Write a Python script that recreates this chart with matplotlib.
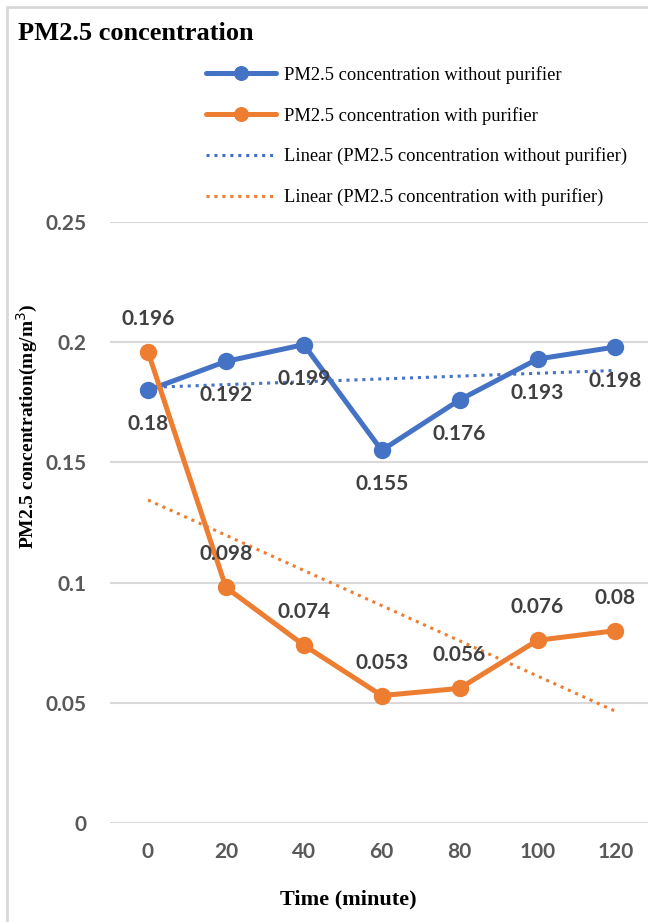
import numpy as np
import matplotlib
matplotlib.use("Agg")
import matplotlib.pyplot as plt
from matplotlib.patches import Rectangle

# ---- data ----
time_min = [0, 20, 40, 60, 80, 100, 120]
without_purifier = [0.18, 0.192, 0.199, 0.155, 0.176, 0.193, 0.198]
with_purifier = [0.196, 0.098, 0.074, 0.053, 0.056, 0.076, 0.08]
y_ticks = [0, 0.05, 0.1, 0.15, 0.2, 0.25]
y_tick_labels = ["0", "0.05", "0.1", "0.15", "0.2", "0.25"]
series_names = ["PM2.5 concentration without purifier",
                "PM2.5 concentration with purifier",
                "Linear (PM2.5 concentration without purifier)",
                "Linear (PM2.5 concentration with purifier)"]

BLUE = "#4472C4"
ORANGE = "#ED7D31"
TICK_C = "#595959"
LAB_C = "#404040"
W, H = 648, 922

fig = plt.figure(figsize=(W / 100, H / 100), dpi=100)
fig.patch.set_facecolor("white")

# outer chart border (cropped at right/bottom)
fig.patches.append(Rectangle((7 / W, -0.05), 1.2, 1 - 7 / H + 0.05,
                             transform=fig.transFigure, fill=False,
                             edgecolor="#D9D9D9", linewidth=2))

left, right = 110, 648
top, bottom = 222, 823
ax = fig.add_axes([left / W, 1 - bottom / H, (right - left) / W, (bottom - top) / H])

x = np.array(time_min, dtype=float)
px_per_20 = 77.9
ax.set_xlim(0 - 38 / px_per_20 * 20, 0 - 38 / px_per_20 * 20 + (right - left) / px_per_20 * 20)
ax.set_ylim(0, 0.25)

for s in ax.spines.values():
    s.set_visible(False)
ax.set_yticks(y_ticks)
ax.set_yticklabels(y_tick_labels)
ax.set_xticks(time_min)
ax.set_xticklabels([str(t) for t in time_min])
ax.tick_params(length=0)
ax.tick_params(axis="y", pad=17)
ax.tick_params(axis="x", pad=14)
for lab in ax.get_xticklabels() + ax.get_yticklabels():
    lab.set_fontfamily("Lato")
    lab.set_fontweight("bold")
    lab.set_fontsize(15)
    lab.set_color(TICK_C)
ax.grid(axis="y", color="#D9D9D9", linewidth=1.5)
ax.set_axisbelow(True)

# trend lines (least-squares linear fit)
c1 = np.polyfit(x, without_purifier, 1)
c2 = np.polyfit(x, with_purifier, 1)
xt = np.array([x[0], x[-1]])
l1, = ax.plot(x, without_purifier, color=BLUE, lw=3.6, marker="o", ms=11.5, zorder=4,
              solid_capstyle="round")
l2, = ax.plot(x, with_purifier, color=ORANGE, lw=3.6, marker="o", ms=11.5, zorder=4,
              solid_capstyle="round")
t1, = ax.plot(xt, np.polyval(c1, xt), color=BLUE, lw=2.2, ls=(0, (1, 1.6)), zorder=3)
t2, = ax.plot(xt, np.polyval(c2, xt), color=ORANGE, lw=2.2, ls=(0, (1, 1.6)), zorder=3)

for xi, yi in zip(x, without_purifier):
    ax.annotate(f"{yi:g}", (xi, yi), xytext=(0, -34), textcoords="offset pixels",
                ha="center", va="center", fontfamily="Lato", fontweight="bold",
                fontsize=15, color=LAB_C, zorder=5)
for xi, yi in zip(x, with_purifier):
    ax.annotate(f"{yi:g}", (xi, yi), xytext=(0, 33), textcoords="offset pixels",
                ha="center", va="center", fontfamily="Lato", fontweight="bold",
                fontsize=15, color=LAB_C, zorder=5)

fig.legend([l1, l2, t1, t2], series_names, loc="upper left",
           bbox_to_anchor=(206 / W, 1 - 66 / H), frameon=False,
           prop={"family": "Liberation Serif", "size": 13.3},
           handlelength=3.8, handletextpad=0.4, labelspacing=1.24,
           borderpad=0, borderaxespad=0, numpoints=1, markerscale=0.85)

fig.text(18 / W, 1 - 33 / H, "PM2.5 concentration", fontfamily="Liberation Serif",
         fontweight="bold", fontsize=19, ha="left", va="center", color="black")
fig.text(27 / W, 1 - 426 / H, "PM2.5 concentration(mg/m$^3$)", rotation=90,
         fontfamily="Liberation Serif", fontweight="bold", fontsize=14,
         ha="center", va="center", color="black")
fig.text(348 / W, 1 - 899 / H, "Time (minute)", fontfamily="Liberation Serif",
         fontweight="bold", fontsize=16, ha="center", va="center", color="black")

fig.savefig("out.png", dpi=100)
